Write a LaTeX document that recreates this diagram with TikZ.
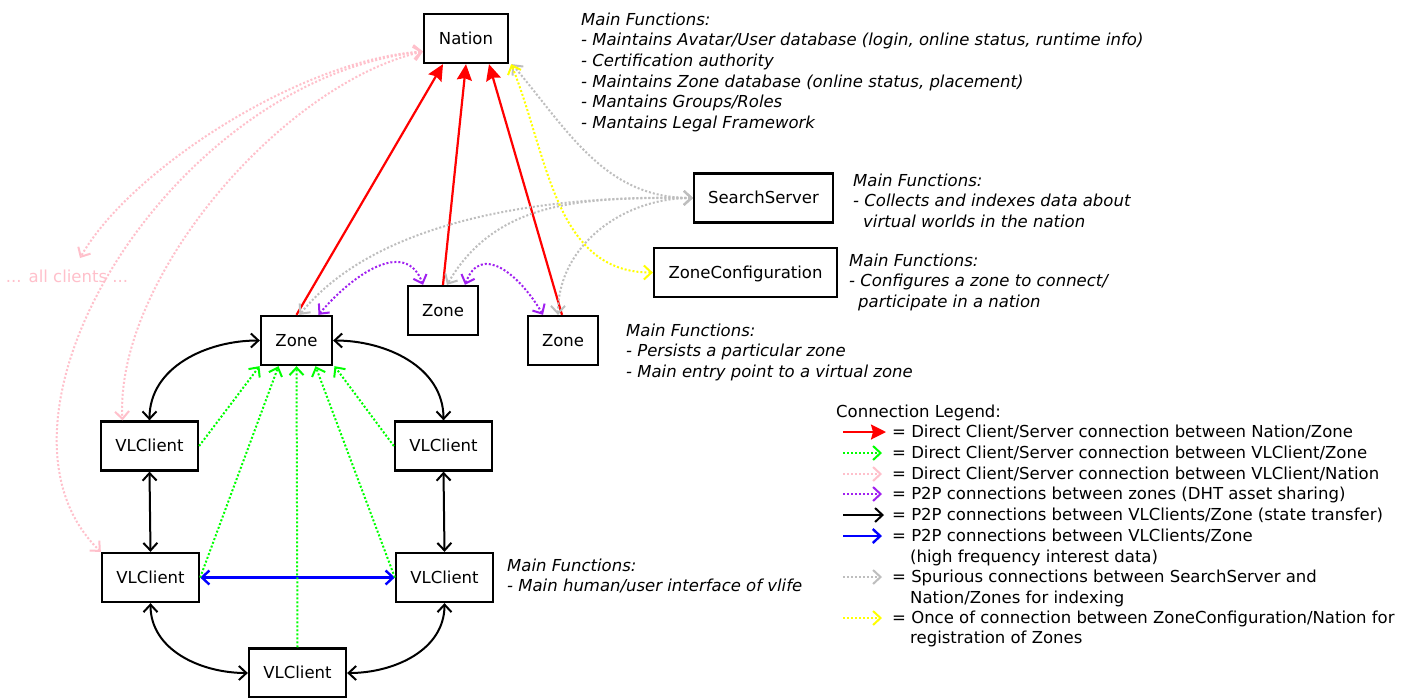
\documentclass[tikz,border=0pt]{standalone}
\usepackage{fontspec}
\setmainfont{DejaVu Sans}
\usetikzlibrary{arrows.meta}
\definecolor{cpink}{RGB}{255,192,203}
\definecolor{cpurple}{RGB}{160,32,240}
\definecolor{cgray}{RGB}{190,190,190}
\definecolor{cgreen}{RGB}{0,255,0}
\definecolor{cyellow}{RGB}{255,255,0}
\newcommand{\bodyfont}{\fontsize{16.5}{20.6}\selectfont}
\begin{document}
\begin{tikzpicture}[x=1pt,y=-1pt,
  font=\bodyfont,
  >={Straight Barb[length=7.5pt,width=14pt]},
  box/.style={draw, line width=2.3pt, inner sep=0pt, minimum height=49pt, text height=15pt, text depth=3.1pt},
  desc/.style={anchor=north west, align=left, inner sep=0pt, font=\bodyfont\itshape, execute at begin node=\strut},
  lg/.style={anchor=west, inner sep=0pt, text height=15pt, text depth=3.1pt},
  redc/.style={red, line width=2.2pt, -{Stealth[length=16pt,width=15pt,inset=2pt]}},
  greenc/.style={cgreen, line width=2pt, dotted, ->},
  pinkc/.style={cpink, line width=2pt, dotted, <->},
  purplec/.style={cpurple, line width=2pt, dotted, <->},
  blackc/.style={black, line width=2pt, <->},
  bluec/.style={blue, line width=2.4pt, <->},
  grayc/.style={cgray, line width=2pt, dotted, <->},
  yellowc/.style={cyellow, line width=2pt, dotted, <->},
]
\useasboundingbox[fill=white] (0,0) rectangle (1409,697);

% nodes
\node[box, minimum width=84pt] (nation) at (466,38.5) {Nation};
\node[box, minimum width=139pt] (search) at (763.5,198) {SearchServer};
\node[box, minimum width=183pt] (zc) at (745.5,272.5) {ZoneConfiguration};
\node[box, minimum width=71pt] (zone1) at (296.5,340.5) {Zone};
\node[box, minimum width=70pt] (zone2) at (443,310.5) {Zone};
\node[box, minimum width=70pt] (zone3) at (563,340.5) {Zone};
\node[box, minimum width=97pt] (vltl) at (149.5,446) {VLClient};
\node[box, minimum width=97pt] (vltr) at (443.5,446) {VLClient};
\node[box, minimum width=97pt] (vlml) at (150.5,577.5) {VLClient};
\node[box, minimum width=97pt] (vlmr) at (444.5,577.5) {VLClient};
\node[box, minimum width=97pt] (vlb) at (297.5,673) {VLClient};

\node[cpink, inner sep=0pt, text height=15pt, text depth=3.1pt] (allc) at (67,277) {... all clients ...};
\coordinate (allctip) at (80,258);

% descriptions
\node[desc] (dnation) at (581,12.5) {Main Functions:\\
- Maintains Avatar/User database (login, online status, runtime info)\\
- Certification authority\\
- Maintains Zone database (online status, placement)\\
- Mantains Groups/Roles\\
- Mantains Legal Framework};
\node[desc] (dsearch) at (853,173.5) {Main Functions:\\
- Collects and indexes data about\\
\hspace*{10pt}virtual worlds in the nation};
\node[desc] (dzc) at (849,253.5) {Main Functions:\\
- Configures a zone to connect/\\
\hspace*{9pt}participate in a nation};
\node[desc] (dzone) at (626,323.5) {Main Functions:\\
- Persists a particular zone\\
- Main entry point to a virtual zone};
\node[desc] (dvl) at (507,558.5) {Main Functions:\\
- Main human/user interface of vlife};

% red
\draw[redc] (zone1.north) -- ([xshift=-23pt]nation.south);
\draw[redc] (zone2.north) -- (nation.south);
\draw[redc] ([xshift=-1pt]zone3.north) -- ([xshift=23pt]nation.south);

% gray
\draw[grayc] (search.west) to[out=180,in=-50] ([xshift=3pt]nation.south east);
\draw[grayc] (search.west) .. controls (560,195) and (380,215) .. ([xshift=3pt]zone1.north);
\draw[grayc] (search.west) to[out=180,in=60] ([xshift=4pt]zone2.north);
\draw[grayc] (search.west) to[out=180,in=90] ([xshift=-5pt]zone3.north);

% yellow
\draw[yellowc] (zc.west) to[out=180,in=-68] ([xshift=2pt]nation.south east);

% purple
\draw[purplec] ([xshift=22pt]zone1.north) to[out=50,in=110,looseness=1.2] ([xshift=-20pt]zone2.north);
\draw[purplec] ([xshift=22pt]zone2.north) to[out=70,in=120,looseness=1.4] ([xshift=-20pt]zone3.north);

% pink
\draw[pinkc] ([yshift=-13pt]nation.west) .. controls (300,60) and (130,170) .. (allctip);
\draw[pinkc] ([yshift=-13pt]nation.west) .. controls (280,85) and (115,280) .. ([xshift=-27pt]vltl.north);
\draw[pinkc] ([yshift=-13pt]nation.west) .. controls (170,80) and (-35,420) .. (vlml.north west);

% black
\draw[blackc] (zone1.west) to[out=180,in=90] (vltl.north);
\draw[blackc] (zone1.east) to[out=0,in=90] (vltr.north);
\draw[blackc] (vltl.south) -- (vlml.north);
\draw[blackc] (vltr.south) -- (vlmr.north);
\draw[blackc] (vlml.south) to[out=-90,in=180] (vlb.west);
\draw[blackc] (vlmr.south) to[out=-90,in=0] (vlb.east);

% blue
\draw[bluec] (vlml.east) -- (vlmr.west);

% green
\draw[greenc] (vltl.east) -- ([xshift=-37pt]zone1.south);
\draw[greenc] (vlml.east) -- ([xshift=-18pt]zone1.south);
\draw[greenc] (vlb.north) -- (zone1.south);
\draw[greenc] (vlmr.west) -- ([xshift=19pt]zone1.south);
\draw[greenc] (vltr.west) -- ([xshift=38pt]zone1.south);

% legend
\node[lg] (lgt) at (836,412) {Connection Legend:};
\node[lg] (lg1) at (892,432) {= Direct Client/Server connection between Nation/Zone};
\node[lg] (lg2) at (892,453) {= Direct Client/Server connection between VLClient/Zone};
\node[lg] (lg3) at (892,474) {= Direct Client/Server connection between VLClient/Nation};
\node[lg] (lg4) at (892,494) {= P2P connections between zones (DHT asset sharing)};
\node[lg] (lg5) at (892,515) {= P2P connections between VLClients/Zone (state transfer)};
\node[lg] (lg6) at (892,536) {= P2P connections between VLClients/Zone};
\node[lg] (lg6b) at (910,557) {(high frequency interest data)};
\node[lg] (lg7) at (892,577) {= Spurious connections between SearchServer and};
\node[lg] (lg7b) at (910,598) {Nation/Zones for indexing};
\node[lg] (lg8) at (892,618) {= Once of connection between ZoneConfiguration/Nation for};
\node[lg] (lg8b) at (910,638) {registration of Zones};

\draw[redc, -{Stealth[length=15pt,width=15pt,inset=2pt]}] ([xshift=-49pt]lg1.west) -- ([xshift=-6pt]lg1.west);
\draw[greenc] ([xshift=-49pt]lg2.west) -- ([xshift=-10pt]lg2.west);
\draw[pinkc, -> ] ([xshift=-49pt]lg3.west) -- ([xshift=-10pt]lg3.west);
\draw[purplec, ->] ([xshift=-49pt]lg4.west) -- ([xshift=-10pt]lg4.west);
\draw[blackc, ->] ([xshift=-49pt]lg5.west) -- ([xshift=-8pt]lg5.west);
\draw[bluec, ->] ([xshift=-49pt]lg6.west) -- ([xshift=-10pt]lg6.west);
\draw[grayc, ->] ([xshift=-49pt]lg7.west) -- ([xshift=-10pt]lg7.west);
\draw[yellowc, ->] ([xshift=-49pt]lg8.west) -- ([xshift=-10pt]lg8.west);
\end{tikzpicture}
\end{document}
